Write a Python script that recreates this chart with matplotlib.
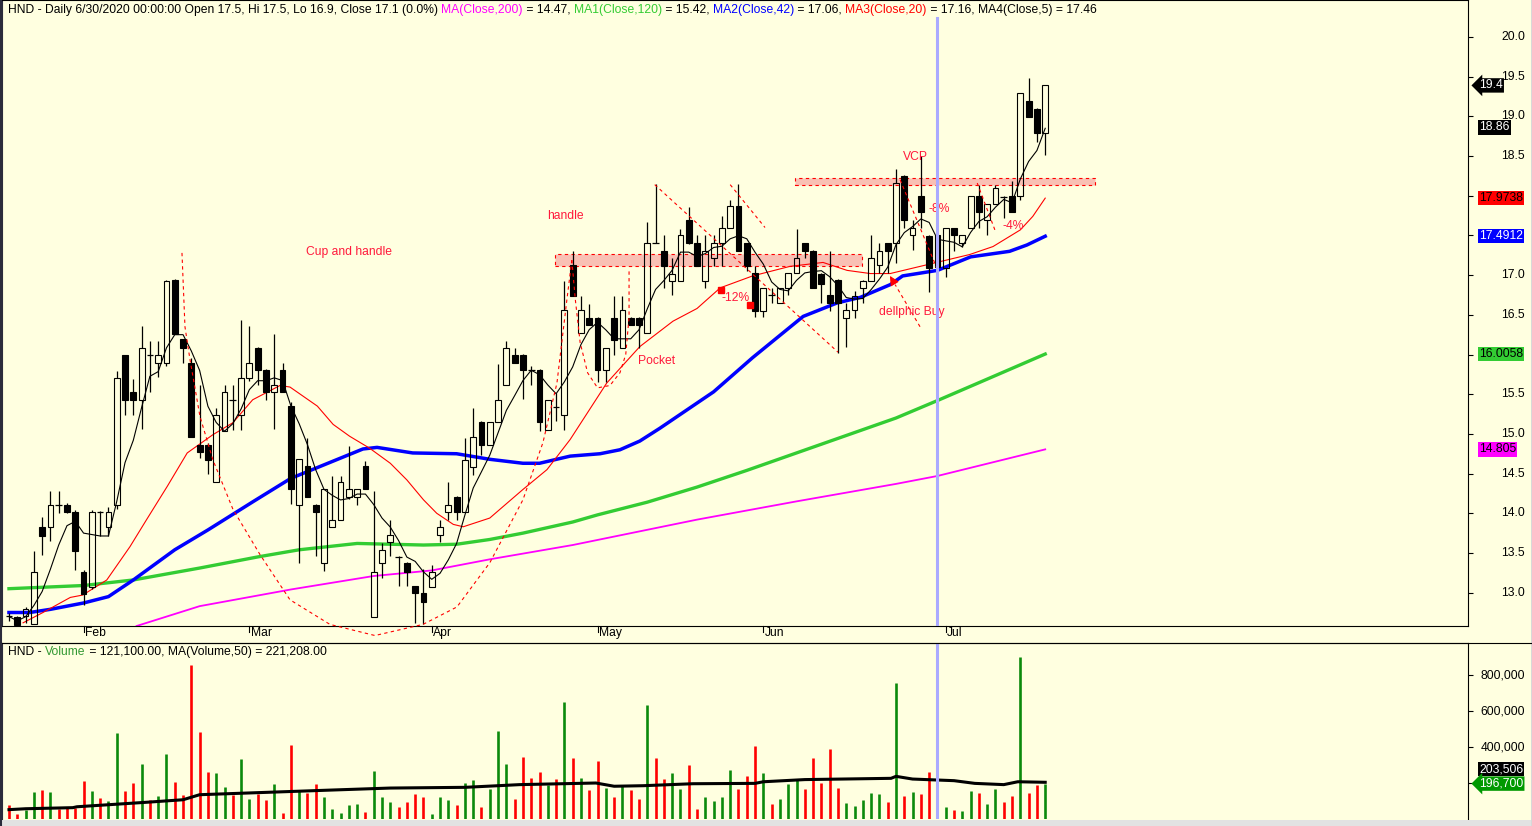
# HND daily chart with MAs, cup-and-handle notes and volume panel
import numpy as np
import pandas as pd
import matplotlib
matplotlib.use("Agg")
import matplotlib.pyplot as plt
from matplotlib.patches import Rectangle
from matplotlib.lines import Line2D
from matplotlib.font_manager import FontProperties
from matplotlib.transforms import blended_transform_factory

plt.rcParams['font.family'] = ['Liberation Sans', 'DejaVu Sans']

############################### data ###############################
opens = [12.70, 12.69, 12.70, 12.61, 13.83, 13.83, 14.11, 14.11, 14.02, 13.26,
         13.07, 14.02, 13.83, 14.10, 16.00, 15.53, 15.43, 15.99, 15.89, 15.89,
         16.94, 16.19, 15.89, 14.86, 14.86, 14.39, 15.04, 15.43, 15.24, 15.70,
         16.08, 15.81, 15.53, 15.81, 15.35, 14.11, 14.59, 14.11, 13.37, 13.83,
         13.92, 14.21, 14.21, 14.59, 12.69, 13.37, 13.64, 13.45, 13.37, 13.08,
         12.99, 13.07, 13.73, 14.02, 14.21, 14.02, 14.58, 15.15, 14.86, 15.15,
         15.62, 16.00, 16.00, 15.80, 15.81, 15.05, 15.34, 15.24, 17.13, 16.27,
         16.46, 16.46, 15.80, 16.46, 16.08, 16.46, 16.46, 16.27, 17.40, 17.31,
         16.93, 16.93, 17.70, 17.40, 16.93, 17.21, 17.40, 17.59, 17.87, 17.40,
         17.03, 16.55, 16.75, 16.65, 16.84, 17.03, 17.40, 17.31, 17.02, 16.75,
         16.94, 16.46, 16.56, 16.84, 16.93, 17.13, 17.40, 17.40, 18.25, 17.50,
         18.00, 17.49, 17.50, 17.09, 17.59, 17.40, 17.59, 18.00, 17.69, 17.89,
         17.99, 18.00, 18.00, 19.19, 19.09, 18.79]
highs = [12.74, 12.70, 12.82, 13.53, 13.95, 14.28, 14.28, 14.13, 14.04, 13.28,
         14.04, 14.03, 14.08, 15.79, 16.00, 15.69, 16.36, 16.17, 16.17, 16.94,
         16.95, 16.20, 15.95, 15.61, 14.88, 15.33, 15.61, 15.61, 16.44, 16.36,
         16.10, 15.82, 16.26, 15.89, 15.40, 14.68, 14.95, 14.12, 14.30, 14.47,
         14.47, 14.85, 14.30, 14.66, 14.28, 13.63, 13.91, 13.46, 13.38, 13.09,
         13.30, 13.35, 13.92, 14.39, 14.22, 14.95, 15.33, 15.16, 15.15, 15.88,
         16.17, 16.08, 16.01, 15.86, 15.82, 15.43, 15.52, 16.93, 17.31, 16.74,
         16.64, 16.47, 16.08, 16.74, 16.74, 16.47, 16.47, 17.67, 18.15, 17.50,
         17.21, 17.58, 17.86, 17.50, 17.50, 17.50, 17.75, 17.95, 18.15, 17.41,
         17.12, 16.84, 16.84, 16.84, 17.03, 17.58, 17.41, 17.32, 17.03, 17.30,
         16.95, 16.65, 16.80, 16.94, 17.50, 17.40, 17.41, 18.34, 18.26, 17.69,
         18.50, 17.50, 17.50, 17.59, 17.60, 17.50, 18.00, 18.14, 17.89, 18.14,
         18.00, 18.19, 19.29, 19.48, 19.10, 19.39]
lows = [12.64, 12.58, 12.62, 12.60, 13.47, 13.65, 14.00, 14.00, 13.28, 12.85,
        13.05, 13.72, 13.72, 14.05, 15.24, 15.24, 15.06, 15.53, 15.72, 15.85,
        16.26, 15.89, 14.96, 14.70, 14.49, 14.39, 15.04, 15.05, 15.05, 15.67,
        15.62, 15.43, 15.06, 15.53, 14.12, 13.37, 14.21, 13.46, 13.27, 13.83,
        13.92, 14.18, 14.10, 14.30, 12.69, 13.19, 13.46, 13.08, 13.08, 12.62,
        12.60, 13.07, 13.64, 13.92, 13.92, 14.02, 14.48, 14.74, 14.86, 15.15,
        15.62, 15.89, 15.44, 15.62, 15.04, 15.05, 15.16, 15.05, 16.74, 16.27,
        16.37, 15.65, 15.65, 15.99, 16.08, 16.37, 16.08, 16.27, 17.40, 16.84,
        16.75, 16.93, 17.39, 17.12, 16.84, 17.12, 17.12, 17.59, 17.31, 17.05,
        16.47, 16.47, 16.65, 16.65, 16.75, 17.03, 17.21, 16.84, 16.65, 16.55,
        16.02, 16.10, 16.46, 16.65, 16.93, 17.03, 17.03, 17.15, 17.59, 17.32,
        17.59, 16.79, 16.90, 16.98, 17.31, 17.35, 17.59, 17.59, 17.50, 17.89,
        17.72, 17.79, 17.95, 18.99, 18.68, 18.51]
closes = [12.70, 12.59, 12.80, 13.26, 13.72, 14.11, 14.11, 14.02, 13.53, 12.98,
          14.02, 14.02, 14.02, 15.70, 15.43, 15.43, 16.08, 15.99, 15.99, 16.93,
          16.26, 16.08, 14.96, 14.77, 14.67, 15.24, 15.53, 15.43, 15.70, 15.89,
          15.80, 15.53, 15.61, 15.53, 14.30, 14.68, 14.21, 14.02, 14.30, 13.92,
          14.39, 14.30, 14.30, 14.30, 13.26, 13.54, 13.73, 13.45, 13.26, 12.99,
          12.88, 13.26, 13.83, 14.11, 14.02, 14.67, 14.96, 14.86, 15.15, 15.43,
          16.08, 15.89, 15.81, 15.80, 15.15, 15.43, 15.34, 16.56, 16.74, 16.56,
          16.37, 15.80, 16.08, 16.18, 16.56, 16.37, 16.37, 17.40, 17.40, 17.12,
          17.02, 17.51, 17.40, 17.12, 17.31, 17.40, 17.59, 17.87, 17.31, 17.12,
          16.55, 16.84, 16.75, 16.84, 17.03, 17.21, 17.31, 16.84, 16.89, 16.65,
          16.65, 16.56, 16.74, 16.93, 17.21, 17.31, 17.31, 18.16, 17.69, 17.59,
          17.79, 17.09, 17.10, 17.59, 17.50, 17.50, 18.00, 17.79, 17.89, 18.10,
          17.99, 17.79, 19.29, 18.99, 18.79, 19.39]
# volume in thousands
volume = [78, 28, 50, 150, 161, 150, 56, 61, 61, 211,
          156, 117, 100, 478, 156, 200, 306, 106, 128, 361,
          206, 133, 856, 483, 261, 256, 178, 133, 333, 111,
          139, 106, 194, 33, 411, 156, 144, 194, 122, 56,
          33, 78, 83, 39, 267, 122, 94, 67, 94, 139,
          122, 28, 122, 106, 78, 200, 217, 67, 167, 489,
          306, 111, 346, 228, 261, 189, 222, 650, 339, 228,
          161, 322, 172, 122, 189, 161, 111, 633, 339, 222,
          256, 167, 300, 56, 122, 100, 122, 272, 167, 239,
          406, 256, 83, 111, 194, 222, 167, 339, 200, 389,
          172, 89, 72, 106, 144, 139, 94, 756, 128, 150,
          139, 261, 121.1, 67, 50, 44, 156, 144, 83, 167,
          94, 128, 900, 144, 189, 196.7]

# moving averages as drawn (bar index, value)
ma200_bar = [15.4, 23, 34, 44, 51, 58, 68, 83, 95, 107, 112, 125]
ma200_val = [12.58, 12.83, 13.04, 13.21, 13.28, 13.42, 13.60, 13.92, 14.15, 14.37, 14.47, 14.805]
ma120_bar = [0, 9, 15, 23, 30, 35, 42, 50, 54, 58, 62, 68, 71, 77, 83, 89, 95, 101, 107, 112, 118, 125]
ma120_val = [13.05, 13.09, 13.16, 13.31, 13.45, 13.54, 13.62, 13.60, 13.61, 13.67, 13.75, 13.89,
             13.98, 14.14, 14.33, 14.54, 14.76, 14.98, 15.20, 15.42, 15.69, 16.006]
ma42_bar = [0, 2.5, 5, 9, 12, 15, 20, 24, 29.5, 34, 38, 42.7, 44.4, 48.7, 54, 58, 62, 64, 67.7,
            71.3, 73.7, 76.1, 78.5, 85, 89.7, 95.8, 99.9, 102.7, 106.3, 107.8, 112, 116, 120.7,
            122.8, 125]
ma42_val = [12.75, 12.75, 12.79, 12.87, 12.95, 13.16, 13.54, 13.79, 14.15, 14.44, 14.61, 14.81,
            14.83, 14.76, 14.75, 14.68, 14.63, 14.63, 14.72, 14.75, 14.80, 14.91, 15.07, 15.53,
            15.96, 16.48, 16.65, 16.72, 16.88, 16.99, 17.06, 17.23, 17.30, 17.38, 17.49]
ma20_bar = [1.7, 4.1, 7.4, 8.9, 11.8, 14.6, 16.6, 19.1, 21.5, 24.6, 27, 29.4, 32.7, 33.9, 37.2,
            39.1, 41.1, 43.5, 46, 48, 50, 51.6, 53.6, 54.8, 58, 62, 64.9, 67.7, 72.1, 76.1, 80.1,
            83, 85.8, 89.7, 94.2, 98.2, 101.1, 103.9, 106.3, 109.9, 113.9, 115.9, 118.7, 122,
            123.5, 125]
ma20_val = [12.62, 12.75, 12.94, 12.97, 13.16, 13.58, 13.92, 14.34, 14.76, 14.99, 15.14, 15.43,
            15.61, 15.59, 15.35, 15.12, 14.97, 14.82, 14.63, 14.42, 14.17, 14.00, 13.86, 13.83,
            13.94, 14.30, 14.55, 14.93, 15.64, 16.10, 16.42, 16.58, 16.84, 16.99, 17.11, 17.16,
            17.06, 17.02, 17.02, 17.11, 17.21, 17.26, 17.36, 17.57, 17.74, 17.97]
vma_bar = [0, 2, 7.7, 8.2, 16.6, 21, 23, 31, 39, 46, 55, 59, 61.6, 70.8, 73, 76.5, 82.5, 90, 91,
           96, 106.4, 107, 109, 114, 116.5, 120, 121.7, 125]
vma_val = [52, 57, 63, 68, 93, 107, 135, 148, 161, 172, 176, 185, 191, 200, 182, 185, 196, 198,
           207, 219, 226, 237, 222, 213, 198, 191, 207, 204]

month_bars = [9, 29, 51, 71, 91, 113]
month_names = ['Feb', 'Mar', 'Apr', 'May', 'Jun', 'Jul']
cursor_bar = 112
price_labels = [13.0, 13.5, 14.0, 14.5, 15.0, 15.5, 16.5, 17.0, 18.5, 19.0, 19.5, 20.0]

# hand-drawn notes (bar index, price)
cup_bar = [20.87, 21.23, 21.83, 23.04, 24.61, 27.02, 30.28, 33.9, 38.72, 44.15, 49.94, 54.04,
           58.02, 62.0, 64.41, 66.1, 67.3, 67.9]
cup_val = [17.28, 16.35, 15.94, 15.22, 14.67, 14.05, 13.48, 12.91, 12.60, 12.46, 12.60, 12.82,
           13.38, 14.17, 14.89, 15.64, 16.69, 17.19]
pocket_bar = [67.9, 68.3, 68.9, 69.8, 71.0, 72.5, 73.7, 74.4, 74.8, 74.8]
pocket_val = [17.19, 16.71, 16.15, 15.77, 15.58, 15.61, 15.77, 16.00, 16.47, 17.06]
trend_lines = [((77.9, 18.14), (100.0, 16.03)),
               ((87.0, 18.14), (91.2, 17.60)),
               ((107.5, 18.20), (112.0, 17.07)),
               ((116.8, 18.16), (119.0, 17.55)),
               ((109.9, 16.35), (106.9, 16.88))]
bands = [(65.9, 102.9, 17.12, 17.26), (94.8, 131.0, 18.14, 18.22)]
marks = [(85.9, 16.81), (89.4, 16.62)]
notes = [("Cup and handle", 35.8, 17.29), ("handle", 64.9, 17.75), ("Pocket", 75.9, 15.92),
         ("-12%", 86.0, 16.71), ("VCP", 107.8, 18.49), ("-8%", 110.9, 17.83),
         ("-4%", 119.9, 17.62), ("dellphic Buy", 104.9, 16.54)]

############################### figure ###############################
W, H = 1532, 826
BG = '#ffffe0'
FS = 8.73
NOTE = '#ff1a3c'
fig = plt.figure(figsize=(W / 100, H / 100), dpi=100, facecolor=BG)


def fx(px):
    return px / W


def fy(py):
    return 1 - py / H


ax = fig.add_axes([fx(2), fy(626), fx(1468) - fx(2), fy(0) - fy(626)], facecolor=BG)
vax = fig.add_axes([fx(2), fy(819), fx(1468) - fx(2), fy(643) - fy(819)], facecolor=BG)

o = np.array(opens)
h = np.array(highs)
l = np.array(lows)
c = np.array(closes)
x = np.arange(len(c))

for a in (ax, vax):
    a.set_xlim(-0.84, 176.0)
    a.set_xticks([])
    for s in a.spines.values():
        s.set_color('black')
        s.set_linewidth(0.8)
    a.spines['left'].set_color('#2b2b3b')
    a.tick_params(axis='y', left=False, right=True, direction='out', length=3.6, width=0.8,
                  labelleft=False, labelright=False)
vax.spines['bottom'].set_visible(False)
ax.set_ylim(12.58, 20.466)
vax.set_ylim(0, 978)
ax.set_yticks(np.arange(13.0, 20.01, 0.5))
vax.set_yticks([200, 400, 600, 800])

# moving averages
ax.plot(ma200_bar, ma200_val, color='#ff00ff', lw=1.3, zorder=2)
ax.plot(ma120_bar, ma120_val, color='#33cc33', lw=2.4, zorder=2)
ax.plot(ma42_bar, ma42_val, color='#0000ff', lw=2.5, zorder=2)
ax.plot(ma20_bar, ma20_val, color='#ff0000', lw=0.8, zorder=2)
ma5 = pd.Series(c).rolling(5, min_periods=1).mean()
ax.plot(x, ma5, color='black', lw=0.8, zorder=3)

# resistance bands
for b0, b1, p0, p1 in bands:
    ax.add_patch(Rectangle((b0, p0), b1 - b0, p1 - p0, facecolor='#f9c0b4', edgecolor='red',
                           ls=(0, (3, 3)), lw=0.8, zorder=1.5, clip_on=False))

# candles
top = np.maximum(o, c)
bot = np.minimum(o, c)
ax.vlines(x, top, h, color='black', lw=0.9, zorder=4)
ax.vlines(x, l, bot, color='black', lw=0.9, zorder=4)
doji = (top - bot) < 0.005
ax.hlines(c[doji], x[doji] - 0.4, x[doji] + 0.4, color='black', lw=0.9, zorder=4)
body = ~doji
fills = np.where(c[body] > o[body], 'none', 'black')
ax.bar(x[body], (top - bot)[body], bottom=bot[body], width=0.7, color=fills,
       edgecolor='black', linewidth=0.8, zorder=5)

# notes
ax.plot(cup_bar, cup_val, color='red', lw=0.8, ls=(0, (3, 3)), zorder=6, clip_on=False)
ax.plot(pocket_bar, pocket_val, color='red', lw=0.8, ls=(0, (3, 3)), zorder=6)
for (b0, p0), (b1, p1) in trend_lines:
    ax.plot([b0, b1], [p0, p1], color='red', lw=0.8, ls=(0, (3, 3)), zorder=6)
ax.annotate('', xy=(106.1, 17.02), xytext=(106.9, 16.88),
            arrowprops=dict(arrowstyle='-|>', color='red', lw=0.8, mutation_scale=14), zorder=6)
for b, p in marks:
    ax.plot(b, p, 's', color='red', ms=4, zorder=6)
for s, b, p in notes:
    ax.text(b, p, s, color=NOTE, fontsize=FS, ha='left', va='center', zorder=7)

# cursor (starts just under the header line)
ax.axvline(cursor_bar, ymax=(626 - 18) / 626, color='#aaaaff', lw=2.2, zorder=8)
vax.axvline(cursor_bar, color='#aaaaff', lw=2.2, zorder=8)

# month axis
xtr = ax.get_xaxis_transform()
for b, n in zip(month_bars, month_names):
    ax.plot([b, b], [0, -0.0096], transform=xtr, color='black', lw=0.8, clip_on=False)
    ax.annotate(n, xy=(b, 0), xycoords=xtr, xytext=(1.0, -5.0), textcoords='offset points',
                ha='left', va='center', fontsize=FS)

# volume
vcol = np.where(c > o, '#0b8a0b', '#ff0000')
vax.vlines(x, 0, volume, colors=vcol, lw=1.9, zorder=3)
vax.plot(vma_bar, vma_val, color='black', lw=2.2, zorder=4)

# right axis labels (the ones not hidden under value tags)
ytr = blended_transform_factory(fig.transFigure, ax.transData)
for v in price_labels:
    fig.text(fx(1525), v, f"{v:.1f}", transform=ytr, ha='right', va='center', fontsize=FS)
vtr = blended_transform_factory(fig.transFigure, vax.transData)
for v in [400, 600, 800]:
    fig.text(fx(1525), v, f"{v * 1000:,}", transform=vtr, ha='right', va='center', fontsize=FS)


def tag(y, s, fc, tc, tr, arrow=False):
    style = 'larrow,pad=0.1' if arrow else 'square,pad=0.1'
    fig.text(fx(1479), y, s, transform=tr, ha='left', va='center', fontsize=FS, color=tc,
             bbox=dict(boxstyle=style, fc=fc, ec='none'), zorder=5)


tag(19.39, "19.4", 'black', 'white', ytr, arrow=True)
tag(18.86, "18.86", 'black', 'white', ytr)
tag(17.9738, "17.9738", '#ff0000', 'black', ytr)
tag(17.4912, "17.4912", '#0000ff', 'white', ytr)
tag(16.0058, "16.0058", '#33cc33', 'black', ytr)
tag(14.805, "14.805", '#ff00ff', 'black', ytr)
tag(fy(769), "203,506", 'black', 'white', fig.transFigure)
tag(196.7, "196,700", '#009900', 'white', vtr, arrow=True)

# multi-coloured headers
renderer = fig.canvas.get_renderer()
fp = FontProperties(family='Liberation Sans', size=FS)


def text_w(s):
    return (renderer.get_text_width_height_descent(s + '|', fp, ismath=False)[0]
            - renderer.get_text_width_height_descent('|', fp, ismath=False)[0])


def header(x_px, y_px, parts):
    for s, col in parts:
        fig.text(fx(x_px), fy(y_px), s, color=col, fontsize=FS, ha='left', va='center')
        x_px += text_w(s)


header(8, 10, [("HND - Daily 6/30/2020 00:00:00 Open 17.5, Hi 17.5, Lo 16.9, Close 17.1 (0.0%) ", 'black'),
               ("MA(Close,200)", '#ff00ff'), (" = 14.47, ", 'black'),
               ("MA1(Close,120)", '#33cc33'), (" = 15.42, ", 'black'),
               ("MA2(Close,42)", '#0000ff'), (" = 17.06, ", 'black'),
               ("MA3(Close,20)", '#ff0000'), (" = 17.16, ", 'black'),
               ("MA4(Close,5) = 17.46", 'black')])
header(8, 652, [("HND - ", 'black'), ("Volume", '#339933'),
                (" = 121,100.00, MA(Volume,50) = 221,208.00", 'black')])

# frame bits
fig.add_artist(Line2D([0, 1], [fy(643), fy(643)], color='black', lw=0.8))
fig.add_artist(Line2D([fx(1), fx(1)], [0, 1], color='#2b2b3b', lw=1.5))
fig.add_artist(Rectangle((0, 0), 1, fy(820), transform=fig.transFigure, fc='#e2e2e2', ec='none'))
fig.add_artist(Rectangle((fx(1530.5), 0), 1, 1, transform=fig.transFigure, fc='#d8d8d8', ec='none'))

fig.savefig("out.png", dpi=100, facecolor=BG)
